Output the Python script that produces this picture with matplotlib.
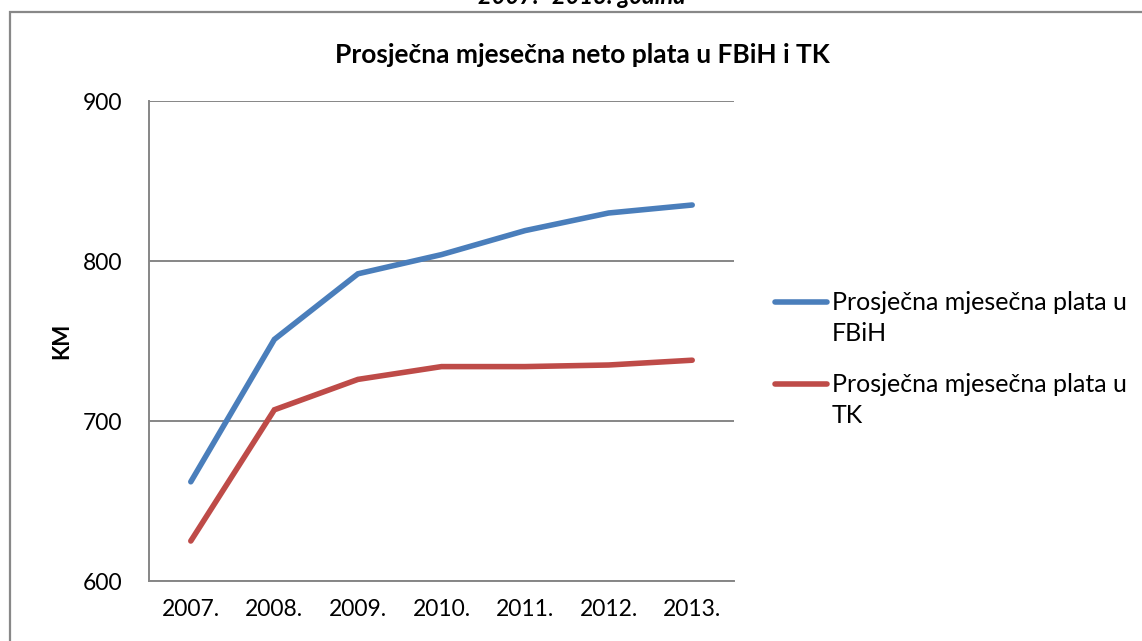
import matplotlib.pyplot as plt
from matplotlib.lines import Line2D
from matplotlib.patches import Rectangle

plt.rcParams['font.family'] = ['Lato', 'DejaVu Sans']

godine = ["2007.", "2008.", "2009.", "2010.", "2011.", "2012.", "2013."]
plata_fbih = [662, 751, 792, 804, 819, 830, 835]
plata_tk = [625, 707, 726, 734, 734, 735, 738]
nazivi = [["Prosječna mjesečna plata u", "FBiH"], ["Prosječna mjesečna plata u", "TK"]]
boje = ["#4A7EBB", "#BE4B48"]

W, H = 1142, 641
fig = plt.figure(figsize=(W / 100, H / 100), dpi=100)

# outer chart frame (cut off at right and bottom)
fig.patches.append(Rectangle((10 / W, -0.1), 1.2, 1 - 12 / H + 0.1,
                             transform=fig.transFigure, fill=False,
                             edgecolor="#888888", linewidth=1.6))

# caption text cut off at the top, as in the source
fig.text(582 / W, 1 - 4 / H, "2007.- 2013. godina", ha="center", va="baseline",
         fontsize=17, fontweight="bold", fontstyle="italic")

ax = fig.add_axes([149 / W, 1 - 581 / H, 585 / W, 480 / H])
x = range(len(godine))
for vals, c in zip([plata_fbih, plata_tk], boje):
    ax.plot(x, vals, color=c, linewidth=4.0, solid_capstyle="round",
            solid_joinstyle="miter")

ax.set_xlim(-0.5, len(godine) - 0.5)
ax.set_ylim(600, 900)
ax.set_yticks([600, 700, 800, 900])
ax.set_xticks(list(x))
ax.set_xticklabels(godine)
ax.grid(axis="y", color="#868686", linewidth=1.4)
ax.set_axisbelow(True)
for s in ["top", "right"]:
    ax.spines[s].set_visible(False)
for s in ["left", "bottom"]:
    ax.spines[s].set_color("#868686")
    ax.spines[s].set_linewidth(1.4)
ax.tick_params(length=0, labelsize=16.5)
ax.tick_params(axis="y", pad=19)
ax.tick_params(axis="x", pad=13)
ax.set_ylabel("KM", fontsize=16, fontweight="bold", labelpad=8)

fig.text(582 / W, 1 - 55 / H, "Prosječna mjesečna neto plata u FBiH i TK",
         ha="center", va="center", fontsize=19, fontweight="bold")

# legend drawn by hand so the line sits at the first text line
for i, (linije, c) in enumerate(zip(nazivi, boje)):
    y0 = 302 + 82 * i
    fig.add_artist(Line2D([775 / W, 827 / W], [1 - y0 / H, 1 - y0 / H], color=c,
                          linewidth=4.0, solid_capstyle="round",
                          transform=fig.transFigure))
    for j, tekst in enumerate(linije):
        fig.text(832 / W, 1 - (y0 + 8 + 31 * j) / H, tekst, ha="left",
                 va="baseline", fontsize=18)

fig.savefig("out.png", dpi=100)
